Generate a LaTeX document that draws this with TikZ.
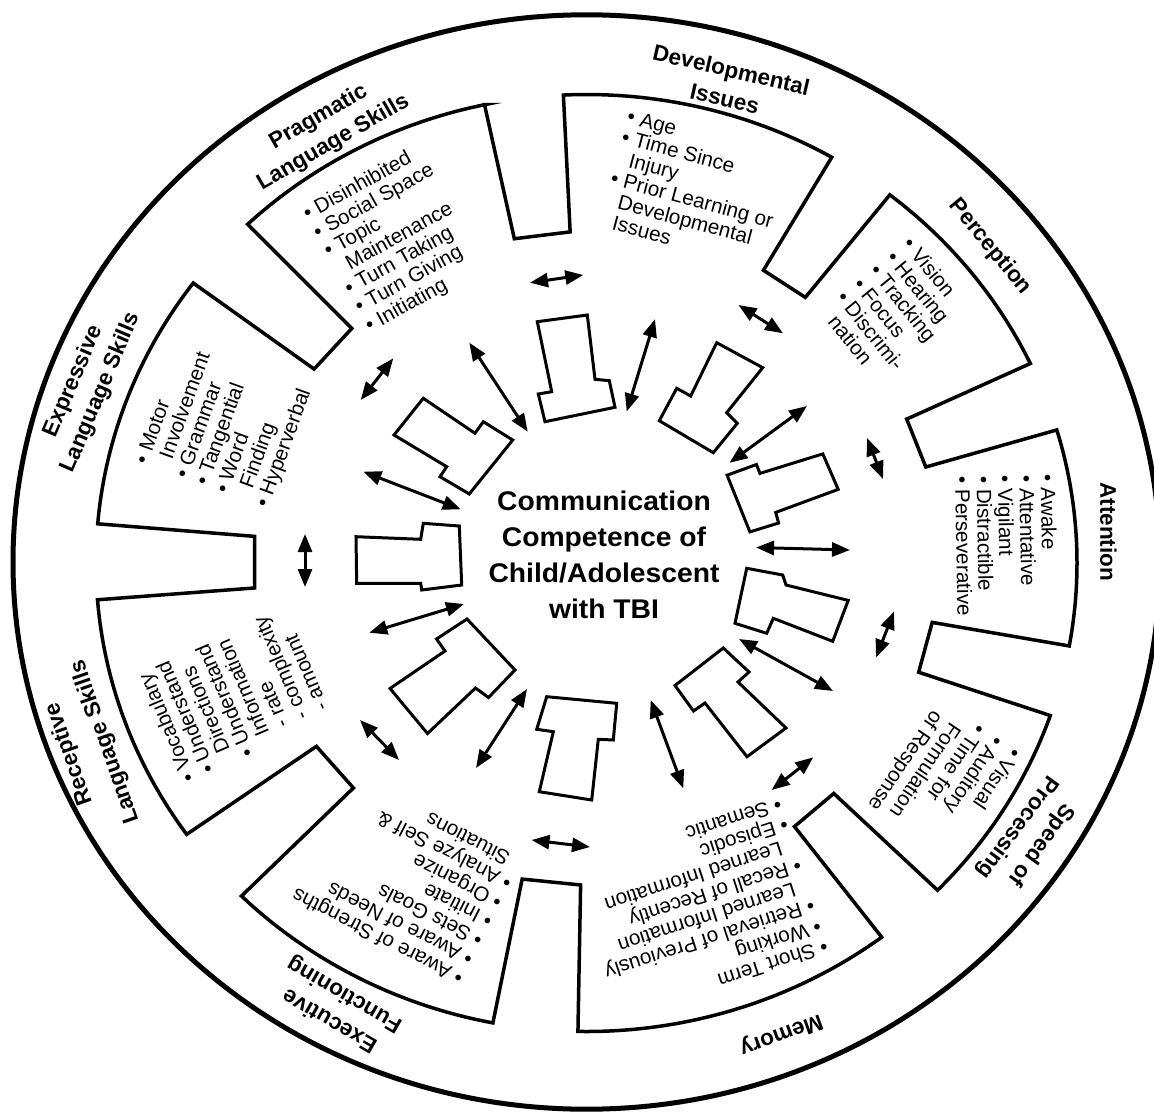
\documentclass[tikz,border=0pt]{standalone}
\usepackage{fontspec}
\setmainfont{Liberation Sans}
\newfontfamily\ctrfont[FakeStretch=1.047]{Liberation Sans}
\usetikzlibrary{arrows.meta}
\newcommand\itemsize{\fontsize{20.7}{21.3}\selectfont}
\newcommand\ind{\hphantom{•\ }}
\tikzset{
  gearline/.style={line width=3.5pt, line join=miter},
  ringline/.style={line width=5pt},
  tee/.style={line width=3pt, line join=miter},
  dbl/.style={line width=3pt, {Triangle[length=18pt,width=14pt]}-{Triangle[length=18pt,width=14pt]}},
  ttl/.style={font=\bfseries\fontsize{22.5}{29.5}\selectfont, align=center, inner sep=0pt},
  itm/.style={inner sep=0pt, anchor=base west, font=\itemsize},
}
\begin{document}
\begin{tikzpicture}[x=1pt,y=-1pt]
\useasboundingbox (0,0) rectangle (1154,1113);
% outer ring
\draw[ringline] (586.5,562) ellipse [x radius=573.5, y radius=547.2];
% gear of nine segments
\begin{scope}[shift={(586.5,563)}, xscale=1.047, yscale=-1]
\draw[gearline]
  (102.0:468.5) -- (102.0:331.5) -- (92.7:331.5) -- (92.7:468.5)
  arc[start angle=92.7, end angle=60.0, radius=468.5]
  -- (60.0:338) -- (51.8:338) -- (51.8:468.5)
  arc[start angle=51.8, end angle=25.2, radius=468.5]
  -- (25.2:338) -- (16.5:338) -- (16.5:468.5)
  arc[start angle=16.5, end angle=-10.2, radius=468.5]
  -- (-10.2:335.5) -- (-19.0:335.5) -- (-19.0:468.5)
  arc[start angle=-19.0, end angle=-44.3, radius=468.5]
  -- (-44.3:330) -- (-53.0:330) -- (-53.0:468.5)
  arc[start angle=-53.0, end angle=-91.0, radius=468.5]
  -- (-91.0:322) -- (-101.0:322) -- (-101.0:468.5)
  arc[start angle=-101.0, end angle=-134.7, radius=468.5]
  -- (-134.7:316.5) -- (-144.6:316.5) -- (-144.6:468.5)
  arc[start angle=-144.6, end angle=-175.5, radius=468.5]
  -- (-175.5:318) -- (-184.8:318) -- (-184.8:468.5)
  arc[start angle=-184.8, end angle=-216.7, radius=468.5]
  -- (-216.7:324.5) -- (-226.3:324.5) -- (-226.3:468.5)
  arc[start angle=-226.3, end angle=-258.0, radius=468.5]
  -- cycle;
\end{scope}
% T shapes
\draw[tee] (537.3,321.7) -- (587.3,315) -- (595,379.3) -- (609.3,380.7) -- (615,407.3) -- (545,421.7) -- (538.3,394) -- (551.7,391.7) -- cycle;
\draw[tee] (716.7,342.7) -- (762.7,367.7) -- (726.7,412.7) -- (737.3,423.3) -- (713.3,452.7) -- (659.3,420.7) -- (676.7,388.3) -- (690.7,396) -- cycle;
\draw[tee] (727.1,475.2) -- (756.5,464.5) -- (759.9,473.4) -- (822.8,453.9) -- (838.2,489.4) -- (775.7,512.4) -- (778.6,523) -- (749.9,531.9) -- cycle;
\draw[tee] (746.7,568.3) -- (782.7,575) -- (786,585) -- (848.2,600.4) -- (832.7,641.3) -- (773.3,618.3) -- (766.7,633.3) -- (735,623.3) -- cycle;
\draw[tee] (723.3,648) -- (749,672) -- (738,682) -- (786,728) -- (747,756.7) -- (705,703) -- (693.5,711) -- (675,685.5) -- cycle;
\draw[tee] (546.7,696.7) -- (616.7,703.3) -- (613.3,740) -- (598.3,739.3) -- (591.7,800) -- (539.3,791.7) -- (553.3,731.7) -- (536.7,729.3) -- cycle;
\draw[tee] (467,619) -- (515,670) -- (488.5,697.5) -- (475.5,688) -- (427.5,733.5) -- (390,688.5) -- (445,651) -- (436.5,639) -- cycle;
\draw[tee] (356,536.7) -- (420.7,539.3) -- (423.3,523.3) -- (459.3,526) -- (461.7,585) -- (421.7,590) -- (420.7,583.3) -- (356.7,583.3) -- cycle;
\draw[tee] (423.3,398.3) -- (475,433.3) -- (483.3,421.7) -- (512.7,440) -- (469.3,494) -- (440,476.7) -- (446.7,466.7) -- (394,435) -- cycle;
% arrow end points
\coordinate (a1s) at (530,282.7);   \coordinate (a1e) at (583.3,275);
\coordinate (a2s) at (469.3,342.7); \coordinate (a2e) at (527.7,431.7);
\coordinate (a3s) at (393.3,358.3); \coordinate (a3e) at (360.7,400);
\coordinate (a4s) at (363.3,471.7); \coordinate (a4e) at (460.7,509.3);
\coordinate (a5s) at (305,534);     \coordinate (a5e) at (305,587);
\coordinate (a6s) at (369.3,632.7); \coordinate (a6e) at (464,604);
\coordinate (a7s) at (360,720);     \coordinate (a7e) at (399,760);
\coordinate (a8s) at (476,768);     \coordinate (a8e) at (527,689);
\coordinate (a9s) at (531.5,840);   \coordinate (a9e) at (590,847);
\coordinate (a10s) at (650.7,700);  \coordinate (a10e) at (683.3,788.3);
\coordinate (a11s) at (813.3,757.3); \coordinate (a11e) at (771.7,790);
\coordinate (a12s) at (739,639);    \coordinate (a12e) at (833,691);
\coordinate (a13s) at (894,611.5);  \coordinate (a13e) at (876,657.5);
\coordinate (a14s) at (756,547.5);  \coordinate (a14e) at (850,550);
\coordinate (a15s) at (867,438);    \coordinate (a15e) at (883,479);
\coordinate (a16s) at (807,406);    \coordinate (a16e) at (729.5,462.8);
\coordinate (a17s) at (738.5,305);  \coordinate (a17e) at (783,333.3);
\coordinate (a18s) at (655,319.2);  \coordinate (a18e) at (626.7,411.5);
\foreach \i in {1,...,18} {\draw[dbl] (a\i s) -- (a\i e);}
% centre
\node[inner sep=0pt, anchor=base] (ctr) at (604,510.7)
  {\ctrfont\bfseries\fontsize{27}{36}\selectfont\begin{tabular}[t]{@{}c@{}}Communication\\Competence of\\Child/Adolescent\\with TBI\end{tabular}};
% titles
\node[ttl, rotate=-13] (tdev) at (728,84) {Developmental\\Issues};
\node[ttl, rotate=-50.5] (tper) at (990,247) {Perception};
\node[ttl, rotate=-90] (tatt) at (1108.5,531.7) {Attention};
\node[ttl, rotate=-126] (tspd) at (1029,836) {Speed of\\Processing};
\node[ttl, rotate=-160] (tmem) at (781,1034) {Memory};
\node[ttl, rotate=150] (texe) at (337.5,1007) {Executive\\Functioning};
\node[ttl, rotate=109, font=\bfseries\fontsize{22.5}{38}\selectfont] (trec) at (87.4,748) {Receptive\\Language Skills};
\node[ttl, rotate=67] (texp) at (87.4,387) {Expressive\\Language Skills};
\node[ttl, rotate=30] (tpra) at (326,130) {Pragmatic\\Language Skills};
% items
\node[itm, rotate=-15] (idev) at (626,122.6) {\begin{tabular}[t]{@{}l@{}}• Age\\• Time Since\\\ind Injury\\• Prior Learning or\\\ind Developmental\\\ind Issues\end{tabular}};
\node[itm, rotate=-51] (iper) at (901.8,244.8) {\begin{tabular}[t]{@{}l@{}}• Vision\\• Hearing\\• Tracking\\• Focus\\• Discrimi-\\\ind nation\end{tabular}};
\node[itm, rotate=-89] (iatt) at (1040.7,474.7) {\begin{tabular}[t]{@{}l@{}}• Awake\\• Attentative\\• Vigilant\\• Distractible\\• Perseverative\end{tabular}};
\node[itm, rotate=-124] (ispd) at (1010.9,746) {\begin{tabular}[t]{@{}l@{}}• Visual\\• Auditory\\• Time for\\\ind Formulation\\\ind of Response\end{tabular}};
\node[itm, rotate=-162] (imem) at (825.2,939.4) {\begin{tabular}[t]{@{}l@{}}• Short Term\\• Working\\• Retrieval of Previously\\\ind Learned Information\\• Recall of Recently\\\ind Learned Information\\• Episodic\\• Semantic\end{tabular}};
\node[itm, rotate=153] (iexe) at (464.8,973.7) {\begin{tabular}[t]{@{}l@{}}• Aware of Strengths\\• Aware of Needs\\• Sets Goals\\• Initiate\\• Organize\\• Analyze Self \&\\\ind Situations\end{tabular}};
\node[itm, rotate=113] (irec) at (196,778.5) {\begin{tabular}[t]{@{}l@{}}• Vocabulary\\• Understand\\\ind Directions\\• Understand\\\ind Information\\\ind - rate\\\ind - complexity\\\ind - amount\end{tabular}};
\node[itm, rotate=70] (iexp) at (147.4,465.2) {\begin{tabular}[t]{@{}l@{}}• Motor\\\ind Involvement\\• Grammar\\• Tangential\\• Word\\\ind Finding\\• Hyperverbal\end{tabular}};
\node[itm, rotate=29] (ipra) at (307.6,220.5) {\begin{tabular}[t]{@{}l@{}}• Disinhibited\\• Social Space\\• Topic\\\ind Maintenance\\• Turn Taking\\• Turn Giving\\• Initiating\end{tabular}};
\end{tikzpicture}
\end{document}
